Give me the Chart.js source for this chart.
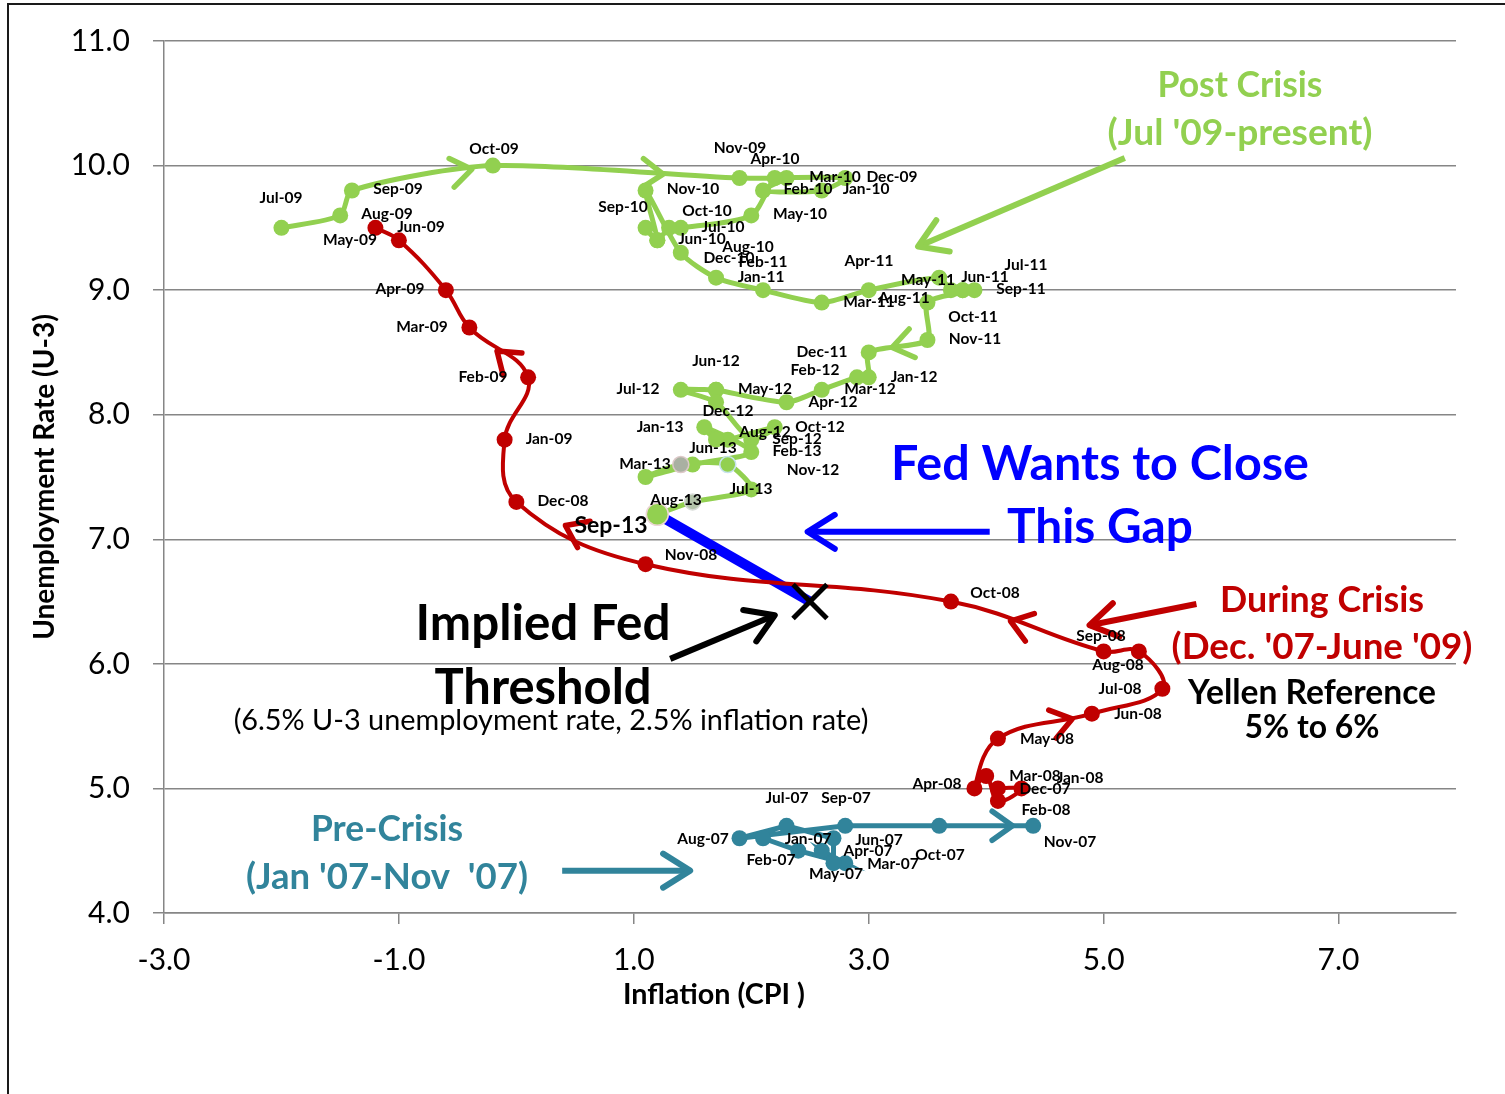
<!DOCTYPE html>
<html><head><meta charset="utf-8">
<script src="https://cdn.jsdelivr.net/npm/chart.js"></script>
<style>html,body{margin:0;padding:0;background:#fff;}canvas{display:block;}</style>
</head><body>
<canvas id="c" width="1505" height="1094"></canvas>
<script>
// ---------------- DATA ----------------
const preMonths = ['Jan-07','Feb-07','Mar-07','Apr-07','May-07','Jun-07','Jul-07','Aug-07','Sep-07','Oct-07','Nov-07'];
const preInflation = [2.1,2.4,2.8,2.6,2.7,2.7,2.3,1.9,2.8,3.6,4.4];
const preUnemp     = [4.6,4.5,4.4,4.5,4.4,4.6,4.7,4.6,4.7,4.7,4.7];

const crisisMonths = ['Dec-07','Jan-08','Feb-08','Mar-08','Apr-08','May-08','Jun-08','Jul-08','Aug-08','Sep-08','Oct-08','Nov-08','Dec-08','Jan-09','Feb-09','Mar-09','Apr-09','May-09','Jun-09'];
const crisisInflation = [4.1,4.3,4.1,4.0,3.9,4.1,4.9,5.5,5.3,5.0,3.7,1.1,0.0,-0.1,0.1,-0.4,-0.6,-1.0,-1.2];
const crisisUnemp     = [5.0,5.0,4.9,5.1,5.0,5.4,5.6,5.8,6.1,6.1,6.5,6.8,7.3,7.8,8.3,8.7,9.0,9.4,9.5];

const postMonths = ['Jul-09','Aug-09','Sep-09','Oct-09','Nov-09','Dec-09',
 'Jan-10','Feb-10','Mar-10','Apr-10','May-10','Jun-10','Jul-10','Aug-10','Sep-10','Oct-10','Nov-10','Dec-10',
 'Jan-11','Feb-11','Mar-11','Apr-11','May-11','Jun-11','Jul-11','Aug-11','Sep-11','Oct-11','Nov-11','Dec-11',
 'Jan-12','Feb-12','Mar-12','Apr-12','May-12','Jun-12','Jul-12','Aug-12','Sep-12','Oct-12','Nov-12','Dec-12',
 'Jan-13','Feb-13','Mar-13','Apr-13','May-13','Jun-13','Jul-13','Aug-13','Sep-13'];
const postInflation = [-2.0,-1.5,-1.4,-0.2,1.9,2.8,
 2.6,2.1,2.3,2.2,2.0,1.4,1.3,1.2,1.1,1.2,1.1,1.4,
 1.7,2.1,2.6,3.0,3.6,3.7,3.8,3.8,3.9,3.5,3.5,3.0,
 3.0,2.9,2.6,2.3,1.7,1.7,1.4,1.7,2.0,2.2,1.8,1.7,
 1.6,2.0,1.5,1.1,1.4,1.8,2.0,1.5,1.2];
const postUnemp = [9.5,9.6,9.8,10.0,9.9,9.9,
 9.8,9.8,9.9,9.9,9.6,9.5,9.5,9.4,9.5,9.4,9.8,9.3,
 9.1,9.0,8.9,9.0,9.1,9.0,9.0,9.0,9.0,8.9,8.6,8.5,
 8.3,8.3,8.2,8.1,8.2,8.2,8.2,8.1,7.8,7.9,7.8,7.8,
 7.9,7.7,7.6,7.5,7.6,7.6,7.4,7.3,7.2];

const impliedInflation = 2.5;
const impliedUnemp = 6.5;

const xTickValues = [-3,-1,1,3,5,7];
const yTickValues = [4,5,6,7,8,9,10,11];

// ---------------- STYLE / LAYOUT ----------------
const GREEN = '#92D050', RED = '#C00000', TEAL = '#31849B', BLUE = '#0000FF', BLACK = '#000000';
const FONT = 'Lato';

const specialMarkers = {
  'May-13': {fill:'#A9B0A2', border:'#DCC8C8'},
  'Jun-13': {fill:GREEN, border:'#C6E3EC'},
  'Aug-13': {fill:'#B3C3AA', border:'#D8DCD8'},
  'Sep-13': {fill:GREEN, border:'#ECD6D6'}
};

const labelCenters = {
'Jan-07':[808,839],'Feb-07':[771,860],'Mar-07':[893,864],'Apr-07':[868,851],'May-07':[836,874],'Jun-07':[879,840],
'Jul-07':[787,798],'Aug-07':[703,839],'Sep-07':[846,798],'Oct-07':[940,855],'Nov-07':[1070,842],
'Dec-07':[1045,789],'Jan-08':[1080,778],'Feb-08':[1046,810],'Mar-08':[1035,776],'Apr-08':[937,784],'May-08':[1047,739],
'Jun-08':[1138,714],'Jul-08':[1120,689],'Aug-08':[1118,665],'Sep-08':[1101,636],'Oct-08':[995,593],'Nov-08':[691,555],
'Dec-08':[563,501],'Jan-09':[549,439],'Feb-09':[483,377],'Mar-09':[422,327],'Apr-09':[400,289],'May-09':[350,240],'Jun-09':[421,227],
'Jul-09':[281,198],'Aug-09':[387,214],'Sep-09':[398,189],'Oct-09':[494,149],'Nov-09':[740,148],'Dec-09':[892,177],
'Jan-10':[866,189],'Feb-10':[808,189],'Mar-10':[835,177],'Apr-10':[775,159],'May-10':[800,214],'Jun-10':[702,239],
'Jul-10':[723,227],'Aug-10':[748,247],'Sep-10':[623,207],'Oct-10':[707,211],'Nov-10':[693,189],'Dec-10':[729,258],
'Jan-11':[761,277],'Feb-11':[763,262],'Mar-11':[869,302],'Apr-11':[869,261],'May-11':[928,280],'Jun-11':[985,277],
'Jul-11':[1026,265],'Aug-11':[904,298],'Sep-11':[1021,289],'Oct-11':[973,317],'Nov-11':[975,339],'Dec-11':[822,352],
'Jan-12':[914,377],'Feb-12':[815,370],'Mar-12':[870,389],'Apr-12':[833,402],'May-12':[765,389],'Jun-12':[716,361],
'Jul-12':[638,389],'Aug-12':[765,432],'Sep-12':[797,439],'Oct-12':[820,427],'Nov-12':[813,470],'Dec-12':[728,411],
'Jan-13':[660,427],'Feb-13':[797,451],'Mar-13':[645,464],'Jun-13':[713,448],'Jul-13':[751,489],'Aug-13':[676,500]
};
const bigLabel = {name:'Sep-13', pos:[611,526]};

const flowArrows = [
  {series:'post', from:2, t:0.85},
  {series:'post', from:3, t:0.69},
  {series:'post', from:28, t:0.6},
  {series:'crisis', from:14, t:0.53},
  {series:'crisis', from:11, t:0.62},
  {series:'crisis', from:9, t:0.61},
  {series:'crisis', from:5, t:0.79},
  {series:'pre', from:9, t:0.78}
];

const calloutArrows = [
  {from:[5.18,10.06], to:[3.42,9.35], color:GREEN},
  {from:[4.03,7.06], to:[2.48,7.06], color:BLUE},
  {from:[5.79,6.48], to:[4.88,6.31], color:RED},
  {from:[1.31,6.04], to:[2.20,6.39], color:BLACK},
  {from:[0.39,4.34], to:[1.48,4.34], color:TEAL}
];

const textNotes = [
  {t:'Post Crisis', x:1240, y:86, w:165, c:GREEN, b:true},
  {t:"(Jul '09-present)", x:1240, y:133, w:265, c:GREEN, b:true},
  {t:'Fed Wants to Close', x:1100, y:464, w:418, c:BLUE, b:true},
  {t:'This Gap', x:1100, y:528, w:186, c:BLUE, b:true},
  {t:'During Crisis', x:1322, y:600, w:204, c:RED, b:true},
  {t:"(Dec. '07-June '09)", x:1322, y:647, w:301, c:RED, b:true},
  {t:'Yellen Reference', x:1312, y:693, w:248, c:BLACK, b:true},
  {t:'5% to 6%', x:1312, y:728, w:135, c:BLACK, b:true},
  {t:'Implied Fed', x:543, y:624, w:255, c:BLACK, b:true},
  {t:'Threshold', x:543, y:688, w:217, c:BLACK, b:true},
  {t:'(6.5% U-3 unemployment rate, 2.5% inflation rate)', x:551, y:721, w:635, c:BLACK, b:false},
  {t:'Pre-Crisis', x:387, y:830, w:152, c:TEAL, b:true},
  {t:"(Jan '07-Nov  '07)", x:387, y:877, w:282, c:TEAL, b:true},
  {t:'Inflation (CPI )', x:714, y:995, w:182, c:BLACK, b:true}
];

// ---------------- HELPERS ----------------
function toPoints(xs, ys){ return xs.map((v,i)=>({x:v, y:ys[i]})); }
const seriesData = {
  pre: toPoints(preInflation, preUnemp),
  crisis: toPoints(crisisInflation, crisisUnemp),
  post: toPoints(postInflation, postUnemp)
};
const seriesColor = {pre:TEAL, crisis:RED, post:GREEN};

function chevron(ctx, tx, ty, ang, len, half, width, color){
  ctx.save();
  ctx.strokeStyle = color; ctx.lineWidth = width; ctx.lineCap = 'round'; ctx.lineJoin='round';
  ctx.beginPath();
  ctx.moveTo(tx - len*Math.cos(ang-half), ty - len*Math.sin(ang-half));
  ctx.lineTo(tx, ty);
  ctx.lineTo(tx - len*Math.cos(ang+half), ty - len*Math.sin(ang+half));
  ctx.stroke();
  ctx.restore();
}
function fitText(ctx, n){
  const weight = n.b ? 'bold ' : '';
  ctx.font = weight + '100px ' + FONT;
  const w100 = ctx.measureText(n.t).width;
  const size = 100 * n.w / w100;
  ctx.font = weight + size.toFixed(2) + 'px ' + FONT;
  ctx.fillStyle = n.c; ctx.textAlign = 'center'; ctx.textBaseline = 'middle';
  ctx.fillText(n.t, n.x, n.y);
}

const overlay = {
  id:'overlay',
  beforeDraw(chart){
    const ctx = chart.ctx;
    ctx.save();
    ctx.fillStyle = '#fff'; ctx.fillRect(0,0,chart.width,chart.height);
    ctx.strokeStyle = '#1a1a1a'; ctx.lineWidth = 2;
    ctx.beginPath(); ctx.moveTo(8, chart.height); ctx.lineTo(8, 4); ctx.lineTo(chart.width, 4); ctx.stroke();
    ctx.restore();
  },
  afterDatasetsDraw(chart){
    const ctx = chart.ctx, xs = chart.scales.x, ys = chart.scales.y;
    const px = v => xs.getPixelForValue(v), py = v => ys.getPixelForValue(v);
    flowArrows.forEach(a=>{
      const d = seriesData[a.series];
      const p0 = d[a.from], p1 = d[a.from+1];
      const x0 = px(p0.x), y0 = py(p0.y), x1 = px(p1.x), y1 = py(p1.y);
      const tx = x0 + a.t*(x1-x0), ty = y0 + a.t*(y1-y0);
      const ang = Math.atan2(y1-y0, x1-x0);
      chevron(ctx, tx, ty, ang, 25, 0.62, 5.5, seriesColor[a.series]);
    });
    calloutArrows.forEach(a=>{
      const x0 = px(a.from[0]), y0 = py(a.from[1]), x1 = px(a.to[0]), y1 = py(a.to[1]);
      ctx.save(); ctx.strokeStyle = a.color; ctx.lineWidth = 6; ctx.lineCap='butt';
      ctx.beginPath(); ctx.moveTo(x0,y0); ctx.lineTo(x1,y1); ctx.stroke(); ctx.restore();
      chevron(ctx, x1, y1, Math.atan2(y1-y0, x1-x0), 32, 0.56, 6, a.color);
    });
    ctx.save();
    ctx.fillStyle = '#000'; ctx.textAlign='center'; ctx.textBaseline='middle';
    ctx.font = 'bold 15.5px ' + FONT;
    Object.keys(labelCenters).forEach(k=>{
      const p = labelCenters[k]; ctx.fillText(k, p[0], p[1]);
    });
    ctx.font = 'bold 23px ' + FONT;
    ctx.fillText(bigLabel.name, bigLabel.pos[0], bigLabel.pos[1]);
    ctx.restore();
    ctx.save();
    textNotes.forEach(n=>fitText(ctx, n));
    ctx.restore();
  }
};

const lastPost = seriesData.post[seriesData.post.length-1];

new Chart(document.getElementById('c'), {
  type:'scatter',
  data:{
    datasets:[
      {label:'Pre-Crisis', data:seriesData.pre, showLine:true, borderColor:TEAL, backgroundColor:TEAL,
       borderWidth:5, pointRadius:8, pointBorderWidth:0, tension:0, order:3},
      {label:'During Crisis', data:seriesData.crisis, showLine:true, borderColor:RED, backgroundColor:RED,
       borderWidth:4, pointRadius:8, pointBorderWidth:0, tension:0.4, order:3},
      {label:'Post Crisis', data:seriesData.post, showLine:true, borderColor:GREEN, backgroundColor:GREEN,
       borderWidth:5, tension:0.25, order:2,
       pointRadius: c => postMonths[c.dataIndex]==='Sep-13' ? 11 : 8,
       pointBackgroundColor: c => (specialMarkers[postMonths[c.dataIndex]]||{fill:GREEN}).fill,
       pointBorderColor: c => (specialMarkers[postMonths[c.dataIndex]]||{border:GREEN}).border,
       pointBorderWidth: c => specialMarkers[postMonths[c.dataIndex]] ? 1.5 : 0},
      {label:'Gap', data:[{x:lastPost.x, y:lastPost.y},{x:impliedInflation, y:impliedUnemp}], showLine:true,
       borderColor:BLUE, borderWidth:10, pointRadius:0, tension:0, order:4},
      {label:'Implied Fed Threshold', data:[{x:impliedInflation, y:impliedUnemp}], showLine:false,
       pointStyle:'crossRot', pointRadius:24, pointBorderWidth:5, borderColor:BLACK, backgroundColor:BLACK, order:0}
    ]
  },
  options:{
    responsive:false, animation:false, devicePixelRatio:1, events:[],
    layout:{padding:{left:28, top:39, right:49, bottom:80}},
    plugins:{legend:{display:false}, tooltip:{enabled:false}},
    scales:{
      x:{type:'linear', min:-3, max:8,
        afterBuildTicks: s => { s.ticks = xTickValues.map(v=>({value:v})); },
        afterFit: s => { s.height = 101; },
        grid:{drawOnChartArea:false, drawTicks:true, tickLength:11, color:'#868686', lineWidth:1.5},
        border:{display:true, color:'#868686', width:1.5},
        ticks:{font:{family:FONT, size:30}, color:'#000', padding:18, maxRotation:0, autoSkip:false,
          callback: v => Number(v).toFixed(1)}
      },
      y:{type:'linear', min:4, max:11,
        afterBuildTicks: s => { s.ticks = yTickValues.map(v=>({value:v})); },
        afterFit: s => { s.width = 136; },
        grid:{color:'#868686', lineWidth:1.5, tickLength:11, drawTicks:true},
        border:{display:true, color:'#868686', width:1.5},
        ticks:{font:{family:FONT, size:30}, color:'#000', padding:23, autoSkip:false,
          callback: v => Number(v).toFixed(1)},
        title:{display:true, text:'Unemployment Rate (U-3)', color:'#000',
          font:{family:FONT, size:28, weight:'bold'}, padding:{top:0, bottom:0}}
      }
    }
  },
  plugins:[overlay]
});
</script>
</body></html>
